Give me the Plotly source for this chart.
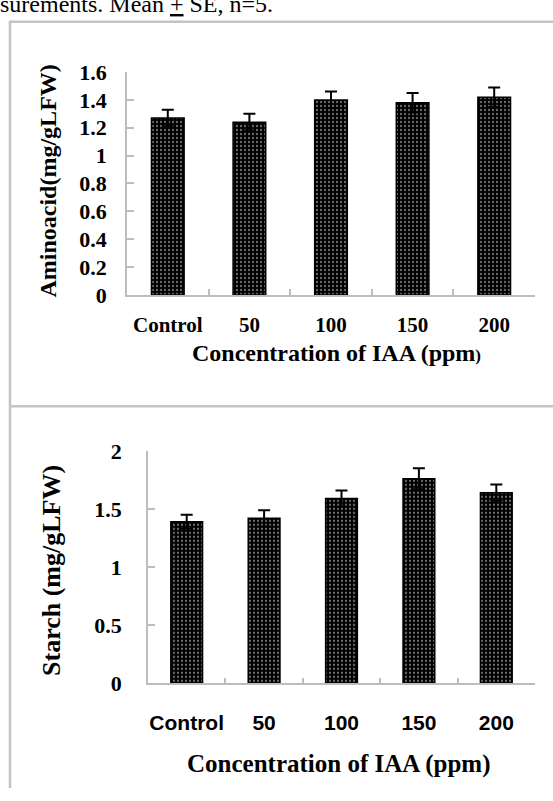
import plotly.graph_objects as go

categories = ["Control", "50", "100", "150", "200"]
amino_values = [1.27, 1.24, 1.40, 1.38, 1.42]
amino_se = [0.06, 0.06, 0.06, 0.07, 0.07]
starch_values = [1.39, 1.42, 1.59, 1.76, 1.64]
starch_se = [0.06, 0.07, 0.07, 0.09, 0.07]

W, H = 553, 801
def px(x):
    return x / W
def py(y):
    return 1 - y / H

SERIF = "Liberation Serif, Times New Roman, serif"
SANS = "Liberation Sans, Arial, sans-serif"
GREY = "#bdbdbd"

bar_marker = dict(
    color="black",
    line=dict(color="black", width=1.5),
    pattern=dict(shape=".", fgcolor="#d9d9d9", bgcolor="black", size=4, solidity=0.25),
)
err_style = dict(type="data", visible=True, color="black", thickness=2, width=6)

fig = go.Figure()
fig.add_trace(go.Bar(
    x=categories, y=amino_values, width=0.4, marker=bar_marker,
    error_y=dict(array=amino_se, **err_style), xaxis="x", yaxis="y", showlegend=False,
))
fig.add_trace(go.Bar(
    x=categories, y=starch_values, width=0.41, marker=bar_marker,
    error_y=dict(array=starch_se, **err_style), xaxis="x2", yaxis="y2", showlegend=False,
))

xcommon = dict(
    type="category", showline=True, linecolor=GREY, linewidth=1.5, tickangle=0,
    ticks="inside", tickson="boundaries", ticklen=6, tickcolor=GREY, tickwidth=1.5,
    showgrid=False, zeroline=False, range=[-0.5, 4.5], fixedrange=True,
)
ycommon = dict(
    showline=True, linecolor=GREY, linewidth=1.5, ticks="inside", ticklen=7,
    tickcolor=GREY, tickwidth=1.5, showgrid=False, zeroline=False, fixedrange=True,
)

fig.update_layout(
    width=W, height=H, margin=dict(l=0, r=0, t=0, b=0),
    paper_bgcolor="white", plot_bgcolor="white", bargap=0.6,
    xaxis=dict(domain=[px(127), px(535)], anchor="y",
               tickfont=dict(family=SERIF, size=21, color="black", weight="bold"),
               ticklabelstandoff=10, **xcommon),
    yaxis=dict(domain=[py(292), py(62)], anchor="x", range=[0, 1.6], dtick=0.2,
               tickfont=dict(family=SERIF, size=22, color="black", weight="bold"),
               ticklabelstandoff=14, **ycommon),
    xaxis2=dict(domain=[px(148), px(535)], anchor="y2",
                tickfont=dict(family=SANS, size=21, color="black", weight="bold"),
                ticklabelstandoff=20, **xcommon),
    yaxis2=dict(domain=[py(693), py(453)], anchor="x2", range=[0, 2], dtick=0.5,
                tickfont=dict(family=SERIF, size=22, color="black", weight="bold"),
                ticklabelstandoff=20, **ycommon),
)

annotations = [
    dict(text="surements. Mean <u>+</u> SE, n=5.", x=px(-2), y=py(-8), xanchor="left",
         yanchor="middle", font=dict(family=SERIF, size=24, color="black")),
    dict(text="<b>Aminoacid(mg/gLFW)</b>", x=px(48), y=py(175), textangle=-90,
         xanchor="center", yanchor="middle", font=dict(family=SERIF, size=24, color="black")),
    dict(text="<b>Concentration of IAA (ppm</b><b><span style='font-size:17px'>)</span></b>",
         x=px(336), y=py(352), xanchor="center", yanchor="middle",
         font=dict(family=SERIF, size=24, color="black")),
    dict(text="<b>Starch (mg/gLFW)</b>", x=px(52), y=py(577), textangle=-90,
         xanchor="center", yanchor="middle", font=dict(family=SERIF, size=26, color="black")),
    dict(text="<b>Concentration of IAA (ppm)</b>", x=px(338), y=py(776), xanchor="center",
         yanchor="middle", font=dict(family=SERIF, size=25, color="black")),
]
for a in annotations:
    a.update(xref="paper", yref="paper", showarrow=False)
fig.update_layout(annotations=annotations)

shapes = [
    dict(type="line", x0=px(10), x1=1, y0=py(10), y1=py(10)),
    dict(type="line", x0=px(10), x1=px(10), y0=0, y1=py(9)),
    dict(type="line", x0=px(10), x1=1, y0=py(407), y1=py(407)),
]
for s in shapes:
    s.update(xref="paper", yref="paper", line=dict(color="#c4c4c4", width=2.5), layer="above")
fig.update_layout(shapes=shapes)

fig.write_html("out.html", config={"displayModeBar": False},
               post_script="document.body.style.margin='0';document.body.style.overflow='hidden';")
